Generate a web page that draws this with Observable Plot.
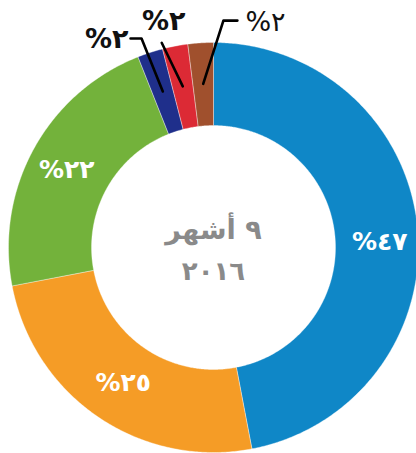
<!DOCTYPE html>
<html><head><meta charset="utf-8">
<script src="https://cdn.jsdelivr.net/npm/d3@7"></script>
<script src="https://cdn.jsdelivr.net/npm/@observablehq/plot@0.6"></script>
<style>
html,body{margin:0;padding:0;background:#fff;} svg{display:block}
</style>
</head><body><div id="chart"></div>
<script>
// ---- data ----
const labels = ["%٤٧", "%٢٥", "%٢٢", "%٢", "%٢", "%٢"];
const values = [47, 25, 22, 2, 2, 2];
const colors = ["#0f87c7", "#f59c26", "#73b23b", "#1f2f8b", "#dc2a35", "#a0502d"];
const centerLines = ["٩ أشهر", "٢٠١٦"];

// ---- layout ----
const W = 416, H = 453;
const PX = 205;            // pixels per unit radius
const CX = 213, CY = 247;  // donut centre in pixels
const INNER = 0.595;
const LABEL_R = 0.8;
// inside-label nudges (px)
const inDx = [3, 2, -3];
const inDy = [10, 0, 2];
// callouts for small slices: elbow angle (deg), elbow radius, horizontal arm (px), label offset
const callAngle = [null, null, null, 341, 345.8, 2.5];
const callRadius = [null, null, null, 1.078, 1.03, 1.108];
const callArm = [null, null, null, -11, 0, 14];
const callAnchor = [null, null, null, "end", "middle", "start"];
const callDx = [null, null, null, -2, 2, 8];
const callDy = [null, null, null, 1, -21, 2];
const callWeight = [null, null, null, "bold", "bold", "normal"];

const total = d3.sum(values);
let acc = 0;
const slices = values.map((v, i) => {
  const a0 = acc / total * 2 * Math.PI; acc += v;
  const a1 = acc / total * 2 * Math.PI;
  return {i, a0, a1, mid: (a0 + a1) / 2, color: colors[i], label: labels[i]};
});
const polar = (a, r) => ({x: r * Math.sin(a), y: -r * Math.cos(a)});

const ringPts = [];
for (const s of slices) {
  const n = Math.max(2, Math.ceil((s.a1 - s.a0) / (Math.PI / 360)));
  const ring = [];
  for (let k = 0; k <= n; k++) ring.push(polar(s.a0 + (s.a1 - s.a0) * k / n, 1));
  for (let k = n; k >= 0; k--) ring.push(polar(s.a0 + (s.a1 - s.a0) * k / n, INNER));
  ring.push(ring[0]);
  ring.forEach(p => ringPts.push({...p, slice: s.i, color: s.color}));
}

const inside = slices.filter(s => callAngle[s.i] == null).map(s => {
  const p = polar(s.mid, LABEL_R);
  return {x: p.x + inDx[s.i] / PX, y: p.y + inDy[s.i] / PX, label: s.label};
});

const leaderPts = [];
const calloutMarks = [];
for (const s of slices) {
  if (callAngle[s.i] == null) continue;
  const start = polar(s.mid, LABEL_R);
  const elbow = polar(callAngle[s.i] * Math.PI / 180, callRadius[s.i]);
  const end = {x: elbow.x + callArm[s.i] / PX, y: elbow.y};
  [start, elbow, end].forEach(p => leaderPts.push({...p, slice: s.i}));
  calloutMarks.push(Plot.text([{x: end.x + callDx[s.i] / PX, y: end.y + callDy[s.i] / PX, label: s.label}], {
    x: "x", y: "y", text: "label", textAnchor: callAnchor[s.i],
    fill: "#111", fontSize: 27, fontWeight: callWeight[s.i], fontFamily: "DejaVu Sans"
  }));
}

const chart = Plot.plot({
  width: W, height: H,
  margin: 0,
  x: {domain: [-CX / PX, (W - CX) / PX], range: [0, W], axis: null},
  y: {domain: [-CY / PX, (H - CY) / PX], range: [0, H], axis: null},
  color: {type: "identity"},
  style: {background: "#fff"},
  marks: [
    Plot.line(ringPts, {x: "x", y: "y", z: "slice", fill: "color", stroke: "#ffffff", strokeWidth: 0.6, strokeOpacity: 0.6, curve: "linear"}),
    Plot.line(leaderPts, {x: "x", y: "y", z: "slice", stroke: "#000", strokeWidth: 2.6, curve: "linear"}),
    Plot.text(inside, {x: "x", y: "y", text: "label", fill: "#fff", fontSize: 25, fontWeight: "bold", fontFamily: "DejaVu Sans"}),
    ...calloutMarks,
    Plot.text([centerLines[0]], {x: 0, y: -17 / PX, text: d => d, fill: "#8a8a8a", fontSize: 27, fontWeight: "bold", fontFamily: "DejaVu Sans"}),
    Plot.text([centerLines[1]], {x: 0, y: 24 / PX, text: d => d, fill: "#8a8a8a", fontSize: 26, fontWeight: "bold", fontFamily: "DejaVu Sans"})
  ]
});
// typographic spacing like the original artwork
chart.querySelectorAll("text").forEach(t => {
  const s = t.textContent;
  if (labels.includes(s)) t.style.letterSpacing = "3px";
  else if (s === centerLines[1]) t.style.letterSpacing = "5px";
});
document.getElementById("chart").appendChild(chart);
</script>
</body></html>
